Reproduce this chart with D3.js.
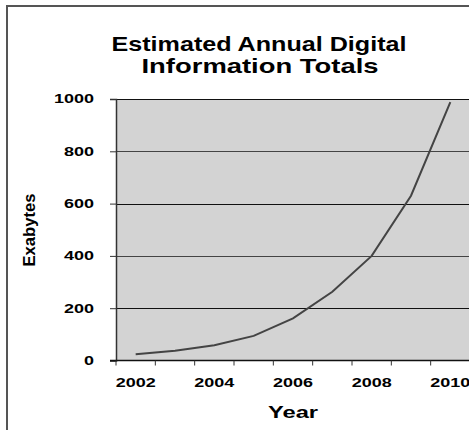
<!DOCTYPE html>
<html>
<head>
<meta charset="utf-8">
<script src="https://cdn.jsdelivr.net/npm/d3@7"></script>
<style>
  body { margin: 0; background: #fff; overflow: hidden; }
  text { font-family: "Liberation Sans", Arial, sans-serif; font-weight: bold; fill: #000; }
</style>
</head>
<body>
<div id="chart"></div>
<script>
const WIDTH = 469, HEIGHT = 430

// values (exabytes per year)
var years = ["2002", "2003", "2004", "2005", "2006", "2007", "2008", "2009", "2010"]
var exabytes = [24, 37, 58, 94, 161, 263, 400, 630, 988]
var yTicks = [0, 200, 400, 600, 800, 1000]
var yearLabels = ["2002", "2004", "2006", "2008", "2010"]

var margin = {top: 99, left: 116},
    plotW = 354,
    plotH = 261.5

var svg = d3.select("#chart").append("svg")
  .attr("width", WIDTH)
  .attr("height", HEIGHT)

// outer chart frame
svg.append("rect")
  .attr("x", 7).attr("y", 6)
  .attr("width", 480).attr("height", 440)
  .attr("fill", "none")
  .attr("stroke", "#555")
  .attr("stroke-width", 2)

// title (the source text is stretched sideways, so fit widths)
svg.append("text")
  .attr("x", 259).attr("y", 51)
  .attr("text-anchor", "middle")
  .attr("textLength", 295)
  .attr("lengthAdjust", "spacingAndGlyphs")
  .style("font-size", "21px")
  .text("Estimated Annual Digital")
svg.append("text")
  .attr("x", 260).attr("y", 72.7)
  .attr("text-anchor", "middle")
  .attr("textLength", 237)
  .attr("lengthAdjust", "spacingAndGlyphs")
  .style("font-size", "21px")
  .text("Information Totals")

var g = svg.append("g")
  .attr("transform", "translate(" + margin.left + "," + margin.top + ")")

var x = d3.scaleBand()
  .domain(years)
  .range([0, plotW])

var y = d3.scaleLinear()
  .domain([0, 1000])
  .range([plotH, 0])

// plot area
g.append("rect")
  .attr("width", plotW)
  .attr("height", plotH)
  .attr("fill", "#d3d3d3")

// gridlines
g.selectAll(".grid")
  .data(yTicks.slice(1))
  .enter().append("line")
  .attr("x1", 0).attr("x2", plotW)
  .attr("y1", d => Math.round(y(d)) + 0.5)
  .attr("y2", d => Math.round(y(d)) + 0.5)
  .attr("stroke", (d, i) => i % 2 ? "#444" : "#111")
  .attr("stroke-width", 1)

// y axis
var yAxis = g.append("g")
  .call(d3.axisLeft(y).tickValues(yTicks).tickFormat(d3.format("d")).tickSize(6).tickPadding(16))
yAxis.select(".domain").attr("stroke", "#333").attr("stroke-width", 1.5)
yAxis.selectAll(".tick line").attr("stroke", "#333")
yAxis.selectAll("text")
  .style("font-size", "12px")
  .style("font-family", "'Liberation Sans', Arial, sans-serif")
  .style("font-weight", "bold")
  .attr("fill", "#000")
  .attr("textLength", d => String(d).length * 10)
  .attr("lengthAdjust", "spacingAndGlyphs")

// x axis: ticks between categories, labels every second year
var xAxisG = g.append("g").attr("transform", "translate(0," + plotH + ")")
xAxisG.append("line")
  .attr("x1", -6).attr("x2", plotW)
  .attr("stroke", "#111").attr("stroke-width", 1.5)
xAxisG.selectAll(".xt")
  .data(years)
  .enter().append("line")
  .attr("x1", d => x(d)).attr("x2", d => x(d))
  .attr("y1", 0).attr("y2", 5)
  .attr("stroke", "#333")
xAxisG.selectAll(".xl")
  .data(yearLabels)
  .enter().append("text")
  .attr("x", d => x(d) + x.bandwidth() / 2)
  .attr("y", 26.5)
  .attr("text-anchor", "middle")
  .attr("textLength", 40)
  .attr("lengthAdjust", "spacingAndGlyphs")
  .style("font-size", "12px")
  .text(d => d)

// axis titles
svg.append("text")
  .attr("x", 293).attr("y", 418)
  .attr("text-anchor", "middle")
  .attr("textLength", 50)
  .attr("lengthAdjust", "spacingAndGlyphs")
  .style("font-size", "16px")
  .text("Year")

svg.append("text")
  .attr("transform", "translate(35,230) rotate(-90)")
  .attr("text-anchor", "middle")
  .attr("textLength", 73)
  .attr("lengthAdjust", "spacingAndGlyphs")
  .style("font-size", "16px")
  .text("Exabytes")

// the series line
var line = d3.line()
  .x((d, i) => x(years[i]) + x.bandwidth() / 2)
  .y(d => y(d))

g.append("path")
  .datum(exabytes)
  .attr("d", line)
  .attr("fill", "none")
  .attr("stroke", "#444")
  .attr("stroke-width", 2)
</script>
</body>
</html>
